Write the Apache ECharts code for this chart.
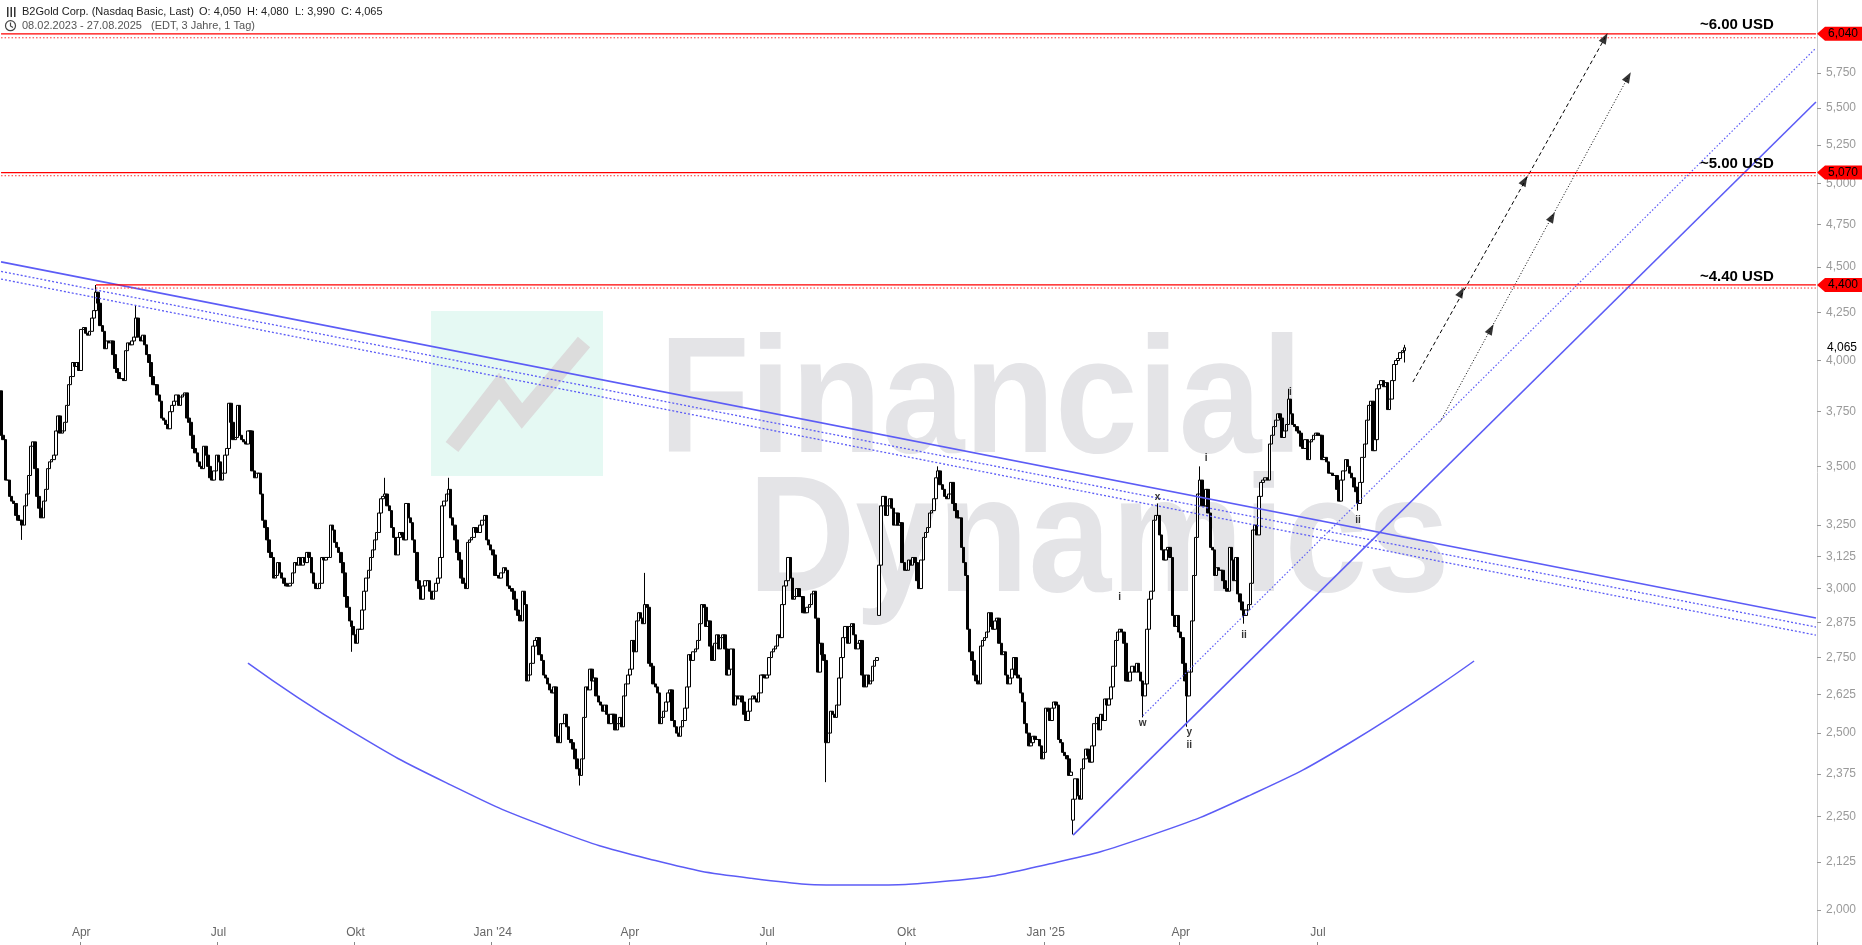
<!DOCTYPE html>
<html><head><meta charset="utf-8">
<script src="https://cdn.jsdelivr.net/npm/echarts@6/dist/echarts.min.js"></script>
<style>html,body{margin:0;padding:0;background:#fff}#c{width:1862px;height:945px}</style>
</head><body><div id="c"></div>
<script>
// ---------- DATA ----------
const startDate = '2023-02-08';   // first trading day shown
const slotCount = 861;            // weekday slots incl. projection area
const lastDataIndex = 665;        // 27.08.2025
const firstOpen = 3.85;
const closes = [
// 0
3.64,3.62,3.44,3.44,3.37,3.35,3.34,3.29,3.27,3.27,
3.25,3.33,3.38,3.46,3.59,3.61,3.49,3.37,3.32,3.28,
3.35,3.40,3.49,3.52,3.53,3.55,3.66,3.73,3.65,3.66,
3.70,3.78,3.88,3.92,3.99,3.97,3.99,3.95,4.16,4.17,
4.14,4.13,4.15,4.22,4.26,4.36,4.30,4.18,4.15,4.06,
4.10,4.09,4.10,4.03,3.96,3.94,3.91,3.91,3.90,4.05,
4.09,4.08,4.10,4.12,4.22,4.12,4.10,4.13,4.08,4.03,
3.99,3.92,3.88,3.88,3.83,3.80,3.72,3.71,3.69,3.67,
3.75,3.78,3.80,3.83,3.78,3.82,3.83,3.84,3.72,3.70,
3.64,3.58,3.56,3.52,3.50,3.49,3.59,3.55,3.50,3.45,
3.44,3.48,3.55,3.52,3.44,3.47,3.55,3.58,3.79,3.70,
3.62,3.63,
// 112
3.78,3.64,3.62,3.61,3.60,3.66,3.66,3.48,
3.45,3.47,3.47,3.38,3.27,3.24,3.19,3.14,3.12,3.04,
3.05,3.10,3.06,3.04,3.02,3.01,3.01,3.02,3.06,3.10,
3.09,3.12,3.09,3.12,3.10,3.14,3.12,3.06,3.02,3.00,
3.00,3.02,3.12,3.11,3.12,3.12,3.25,3.23,3.18,3.16,
3.14,3.10,3.06,2.97,2.93,2.88,2.86,2.83,2.80,2.85,
2.85,2.92,2.99,3.04,3.07,3.12,3.15,3.19,3.22,3.30,
3.36,3.37,3.38,3.33,3.31,3.24,3.20,3.13,3.20,3.22,
3.21,3.19,3.34,3.28,3.26,3.19,3.14,3.03,3.00,2.96,
3.01,3.03,3.03,2.99,2.96,2.99,3.02,3.04,3.12,3.33,
3.35,3.38,3.40,3.28,3.25,3.19,3.14,3.11,3.04,3.02,
3.00,3.18,3.19,3.20,3.24,
// 225
3.22,3.22,3.25,3.27,3.29,3.19,3.17,3.15,3.13,3.05,
3.05,3.04,3.06,3.08,3.07,3.01,3.00,2.99,2.96,2.92,
2.90,2.88,2.99,2.94,2.67,2.69,2.73,2.79,2.81,2.82,
2.76,2.74,2.69,2.68,2.66,2.64,2.63,2.65,2.49,2.47,
2.53,2.53,2.56,2.52,2.48,2.47,2.45,2.42,2.39,2.37,
2.42,2.55,2.65,2.64,2.71,2.67,2.68,2.62,2.60,2.59,
2.57,2.59,2.56,2.53,2.56,2.56,2.51,2.53,2.55,2.52,
2.62,2.66,2.69,2.71,2.81,2.77,2.88,2.91,2.89,2.87,
2.94,2.93,2.73,2.72,2.66,2.65,2.63,2.53,2.55,2.57,
2.60,2.63,2.64,2.54,2.52,2.50,2.49,2.52,2.54,2.58,
2.65,2.76,2.74,2.77,2.78,2.81,2.87,2.94,2.93,2.86,
// 335
2.88,2.79,2.74,2.80,2.83,2.78,2.82,2.83,2.78,2.69,
2.71,2.78,2.59,2.62,2.61,2.62,2.60,2.56,2.54,2.57,
2.61,2.62,2.61,2.60,2.63,2.69,2.69,2.68,2.69,2.75,
2.77,2.78,2.79,2.83,2.82,2.94,3.01,3.03,3.12,3.04,
2.96,2.97,3.00,2.97,2.97,2.91,2.91,2.93,2.94,2.98,
2.99,2.89,2.70,2.80,2.76,2.74,2.47,2.50,2.57,2.56,
2.55,2.59,2.68,2.75,2.82,2.86,2.80,2.86,2.87,2.83,
2.78,2.80,2.81,2.69,2.65,2.69,2.66,2.67,2.72,2.74,
2.75,3.09,3.33,3.37,3.29,3.33,3.36,3.32,3.25,3.30,
3.25,3.26,3.10,3.07,3.07,3.11,3.09,3.12,3.10,3.03,
3.00,3.11,3.20,3.22,3.24,3.30,3.31,3.36,3.45,3.48,
3.42,3.40,3.37,
// 448
3.36,3.38,
3.43,3.34,3.31,3.28,3.28,3.16,3.10,3.05,2.85,2.77,
2.74,2.69,2.67,2.66,2.79,2.81,2.82,2.84,2.91,2.86,
2.85,2.88,2.89,2.80,2.76,2.77,2.69,2.66,2.68,2.71,
2.75,2.69,2.68,2.63,2.60,2.53,2.50,2.46,2.47,2.49,
2.48,2.48,2.46,2.42,2.44,2.58,2.57,2.54,2.58,2.60,
2.59,2.48,2.47,2.44,2.43,2.42,2.37,2.38,2.30,2.36,
2.31,2.30,2.39,2.42,2.45,2.43,2.41,2.46,2.53,2.55,
2.51,2.56,2.54,2.61,2.59,2.61,2.65,2.72,2.81,2.84,
2.85,2.84,2.80,2.67,2.67,2.70,2.72,2.70,2.73,2.70,
2.67,2.62,2.66,2.85,2.96,2.99,3.27,3.29,3.29,3.21,
3.15,3.11,3.15,3.16,3.12,2.90,
// 556
2.86,2.90,2.84,2.82,
2.73,2.67,2.62,2.70,2.88,3.05,3.20,3.38,3.44,3.33,
3.33,3.40,3.30,3.16,3.15,3.05,3.08,3.07,3.07,3.03,
3.00,2.99,3.16,3.11,3.03,3.12,2.98,2.95,2.92,2.90,
2.92,2.94,3.02,3.23,3.25,3.21,3.37,3.43,3.44,3.45,
3.44,3.60,3.64,3.68,3.71,3.74,3.72,3.63,3.66,3.69,
3.81,3.74,3.69,3.68,3.66,3.65,3.59,3.58,3.62,3.53,
3.61,3.62,3.64,3.65,3.64,3.64,3.53,3.54,3.52,3.47,
3.47,3.46,3.46,3.40,3.35,3.44,3.48,3.53,3.50,3.47,
3.45,3.41,3.39,3.34,3.43,3.54,3.60,3.71,3.78,3.80,
3.57,3.62,3.86,3.88,3.90,3.87,3.89,3.76,3.81,3.90,
3.98,4.00,4.01,4.04,4.05,4.065
];
const openOverrides = [[416, 2.90], [508, 2.24], [665, 4.05]];
const highOverrides = [[45, 4.40], [64, 4.29], [182, 3.45], [212, 3.45], [305, 3.06], [444, 3.50], [548, 3.34], [568, 3.50], [610, 3.86], [665, 4.08]];
const lowOverrides = [[10, 3.19], [166, 2.77], [274, 2.34], [391, 2.35], [508, 2.20], [541, 2.55], [562, 2.52], [589, 2.87], [643, 3.31], [665, 3.99]];

const yTicks = [2.000,2.125,2.250,2.375,2.500,2.625,2.750,2.875,3.000,3.125,3.250,3.500,3.750,4.000,4.250,4.500,4.750,5.000,5.250,5.500,5.750];
const yMin = 1.9136, yMax = 6.3034;

// horizontal target levels
const levelValues = [6.040, 5.070, 4.400];
const levelStarts = [0, 0, 45];
const levelTags = ['6,040', '5,070', '4,400'];
const levelNotes = ['~6.00 USD', '~5.00 USD', '~4.40 USD'];
const levelLowerValues = [6.010, 5.050, 4.383];
const lastPrice = 4.065;

// trend lines: [[idx, price], [idx, price]]
const downTrendSolid = [[0, 4.530], [860, 2.891]];
const downTrendDot1 = [[0, 4.476], [860, 2.858]];
const downTrendDot2 = [[0, 4.433], [860, 2.829]];
const upTrendSolid = [[508, 2.198], [860, 5.542]];
const upTrendDot = [[541, 2.555], [860, 5.933]];
// rounding bottom arc
const arcPoints = [[117,2.731],[165,2.510],[213,2.342],[260,2.218],[307,2.133],[355,2.082],[407,2.064],[450,2.075],[497,2.120],[544,2.196],[592,2.312],[639,2.469],[698,2.738]];
// projection arrows
const arrowDashed = [[669,3.893],[760,6.009]];
const arrowDashedHeads = [[692,4.361],[722,5.020],[760,6.009]];
const arrowDotted = [[682,3.704],[771,5.720]];
const arrowDottedHeads = [[706,4.162],[735,4.794],[771,5.720]];
// Elliott wave labels
const waveLabels = [[530,2.968,'i'],[541,2.532,'w'],[548,3.367,'x'],[563,2.504,'y'],[563,2.463,'ii'],[571,3.537,'i'],[589,2.829,'ii'],[611,3.844,'i'],[643,3.271,'ii']];

// ---------- BUILD ----------
const ln = Math.log;
function weekdays(start, n) {
  const out = []; const d = new Date(start + 'T00:00:00Z');
  while (out.length < n) { const wd = d.getUTCDay(); if (wd !== 0 && wd !== 6) out.push(d.toISOString().slice(0, 10)); d.setUTCDate(d.getUTCDate() + 1); }
  return out;
}
const cats = weekdays(startDate, slotCount);
const monthNames = {1: 'Jan', 4: 'Apr', 7: 'Jul', 10: 'Okt'};
function isQuarterStart(i) {
  if (i <= 0 || i > lastDataIndex) return false;
  const m = +cats[i].slice(5, 7), pm = +cats[i - 1].slice(5, 7);
  return m !== pm && (m === 1 || m === 4 || m === 7 || m === 10);
}
function fmtLabel(v) {
  const m = +v.slice(5, 7);
  return m === 1 ? "Jan '" + v.slice(2, 4) : monthNames[m];
}

const opens = closes.map((c, i) => i === 0 ? firstOpen : closes[i - 1]);
openOverrides.forEach(([i, v]) => opens[i] = v);
const highs = closes.map((c, i) => Math.max(c, opens[i]));
const lows = closes.map((c, i) => Math.min(c, opens[i]));
highOverrides.forEach(([i, v]) => highs[i] = Math.max(highs[i], v));
lowOverrides.forEach(([i, v]) => lows[i] = Math.min(lows[i], v));
const candleData = closes.map((c, i) => [ln(opens[i]), ln(c), ln(lows[i]), ln(highs[i])]);

const toLn = arr => arr.map(p => [p[0], ln(p[1])]);
const FONT = '"Liberation Sans", Arial, sans-serif';
const BLUE = '#5c5cf6';

function lineSeries(pts, style, extra) {
  return Object.assign({ type: 'line', data: toLn(pts), symbol: 'none', silent: true, animation: false, z: 4, lineStyle: style }, extra || {});
}

const series = [
  {
    type: 'candlestick', data: candleData, z: 3, barWidth: 3, silent: true, large: false, progressive: 0,
    itemStyle: { color: '#ffffff', color0: '#000000', borderColor: '#000000', borderColor0: '#000000', borderWidth: 1 }
  },
  lineSeries(downTrendSolid, { color: BLUE, width: 1.6 }),
  lineSeries(downTrendDot1, { color: BLUE, width: 1.3, type: [2, 2] }),
  lineSeries(downTrendDot2, { color: BLUE, width: 1.3, type: [2, 2] }),
  lineSeries(upTrendSolid, { color: BLUE, width: 1.6 }),
  lineSeries(upTrendDot, { color: BLUE, width: 1.2, type: [1.5, 2] }),
  lineSeries(arcPoints, { color: BLUE, width: 1.5 }, { smooth: 0.5 }),
  lineSeries(arrowDashed, { color: '#000', width: 1, type: [4, 3] }),
  lineSeries(arrowDotted, { color: '#000', width: 1, type: [1, 2] }),
  {
    type: 'scatter', data: toLn(arrowDashedHeads), symbol: 'triangle', symbolSize: [8, 11], symbolRotate: -29,
    itemStyle: { color: '#000' }, silent: true, z: 6
  },
  {
    type: 'scatter', data: toLn(arrowDottedHeads), symbol: 'triangle', symbolSize: [8, 11], symbolRotate: -29,
    itemStyle: { color: '#000' }, silent: true, z: 6
  }
];
levelValues.forEach((v, k) => {
  series.push(lineSeries([[levelStarts[k], v], [slotCount - 1, v]], { color: '#ff0000', width: 1.2 }, { z: 5 }));
  series.push(lineSeries([[levelStarts[k], levelLowerValues[k]], [slotCount - 1, levelLowerValues[k]]], { color: '#ff3030', width: 1, type: [1.5, 2] }, { z: 5 }));
});
series.push({
  type: 'custom', coordinateSystem: 'cartesian2d', clip: false, silent: true, z: 8,
  data: levelValues.map(v => [840, ln(v)]), encode: { x: 0, y: 1 },
  renderItem: (params, api) => {
    const p = api.coord([api.value(0), api.value(1)]);
    return { type: 'text', x: p[0], y: p[1] - 1, style: { text: levelNotes[params.dataIndex], font: 'bold 15px ' + FONT, fill: '#000', align: 'right', verticalAlign: 'bottom' } };
  }
});
series.push({
  type: 'custom', coordinateSystem: 'cartesian2d', clip: false, silent: true, z: 20,
  data: levelValues.map(v => [slotCount - 1, ln(v)]), encode: { x: 0, y: 1 },
  renderItem: (params, api) => {
    const p = api.coord([api.value(0), api.value(1)]);
    const x0 = Math.round(p[0] + 1), y = p[1];
    return {
      type: 'group', children: [
        { type: 'polygon', shape: { points: [[x0, y], [x0 + 8, y - 7], [1862, y - 7], [1862, y + 7], [x0 + 8, y + 7]] }, style: { fill: '#ff0000' } },
        { type: 'text', x: x0 + 11, y: y, style: { text: levelTags[params.dataIndex], font: '12px ' + FONT, fill: '#000', align: 'left', verticalAlign: 'middle' } }
      ]
    };
  }
});
series.push({
  type: 'custom', coordinateSystem: 'cartesian2d', clip: false, silent: true, z: 20,
  data: [[slotCount - 1, ln(lastPrice)]], encode: { x: 0, y: 1 },
  renderItem: (params, api) => {
    const p = api.coord([api.value(0), api.value(1)]);
    return { type: 'text', x: Math.round(p[0] + 9), y: p[1], style: { text: lastPrice.toFixed(3).replace('.', ','), font: '12px ' + FONT, fill: '#000', align: 'left', verticalAlign: 'middle', backgroundColor: '#fff', padding: [1, 2, 0, 2] } };
  }
});
series.push({
  type: 'custom', coordinateSystem: 'cartesian2d', clip: false, silent: true, z: 8,
  data: waveLabels.map(w => [w[0], ln(w[1])]), encode: { x: 0, y: 1 },
  renderItem: (params, api) => {
    const p = api.coord([api.value(0), api.value(1)]);
    return { type: 'text', x: p[0], y: p[1], style: { text: waveLabels[params.dataIndex][2], font: 'bold 10px ' + FONT, fill: '#333', align: 'center', verticalAlign: 'middle' } };
  }
});

const chart = echarts.init(document.getElementById('c'), null, { renderer: 'canvas' });
chart.setOption({
  animation: false,
  backgroundColor: '#ffffff',
  grid: { left: 0, right: 45, top: 0, bottom: 0, containLabel: false },
  xAxis: {
    type: 'category', data: cats, boundaryGap: true,
    axisLine: { show: false },
    axisTick: { show: true, inside: true, length: 3, interval: (i) => isQuarterStart(i), lineStyle: { color: '#888' } },
    axisLabel: { inside: true, interval: (i) => isQuarterStart(i), formatter: fmtLabel, color: '#666', fontSize: 12, margin: 6, fontFamily: '"Liberation Sans Narrow", "Liberation Sans", Arial' },
    splitLine: { show: false }
  },
  yAxis: {
    type: 'value', position: 'right', min: ln(yMin), max: ln(yMax),
    splitLine: { show: false },
    axisLine: { show: true, lineStyle: { color: '#cccccc' } },
    axisTick: { show: true, length: 4, customValues: yTicks.map(ln), lineStyle: { color: '#999' } },
    axisLabel: { customValues: yTicks.map(ln), formatter: v => Math.exp(v).toFixed(3).replace('.', ','), color: '#9a9a9a', fontSize: 12, margin: 9, fontFamily: FONT }
  },
  graphic: [
    { type: 'rect', z: -10, shape: { x: 431, y: 311, width: 172, height: 165 }, style: { fill: '#e5f9f3' } },
    { type: 'polyline', z: -9, shape: { points: [[452, 447], [499, 386], [522, 416], [584, 342]] }, style: { stroke: '#dcdcdc', lineWidth: 16, fill: null } },
    { type: 'text', z: -8, x: 659, y: 406, scaleX: 0.9, style: { text: 'Financial', font: 'bold 165px ' + FONT, fill: '#e4e4e7', verticalAlign: 'middle' } },
    { type: 'text', z: -8, x: 748, y: 545, scaleX: 0.9, style: { text: 'Dynamics', font: 'bold 165px ' + FONT, fill: '#e4e4e7', verticalAlign: 'middle' } },
    // header
    { type: 'rect', z: 30, shape: { x: 7, y: 7, width: 1.5, height: 10 }, style: { fill: '#333' } },
    { type: 'rect', z: 30, shape: { x: 10.5, y: 7, width: 1.5, height: 10 }, style: { fill: '#333' } },
    { type: 'rect', z: 30, shape: { x: 14, y: 7, width: 1.5, height: 10 }, style: { fill: '#333' } },
    { type: 'circle', z: 30, shape: { cx: 10.5, cy: 25.7, r: 5 }, style: { stroke: '#444', fill: null, lineWidth: 1.2 } },
    { type: 'polyline', z: 30, shape: { points: [[10.5, 22.5], [10.5, 26], [13, 27.5]] }, style: { stroke: '#444', fill: null, lineWidth: 1.2 } },
    { type: 'text', z: 30, x: 22, y: 12, style: { text: 'B2Gold Corp. (Nasdaq Basic, Last)', font: '11px ' + FONT, fill: '#222', verticalAlign: 'middle' } },
    { type: 'text', z: 30, x: 199, y: 12, style: { text: 'O: 4,050', font: '11px ' + FONT, fill: '#222', verticalAlign: 'middle' } },
    { type: 'text', z: 30, x: 247, y: 12, style: { text: 'H: 4,080', font: '11px ' + FONT, fill: '#222', verticalAlign: 'middle' } },
    { type: 'text', z: 30, x: 295, y: 12, style: { text: 'L: 3,990', font: '11px ' + FONT, fill: '#222', verticalAlign: 'middle' } },
    { type: 'text', z: 30, x: 341, y: 12, style: { text: 'C: 4,065', font: '11px ' + FONT, fill: '#222', verticalAlign: 'middle' } },
    { type: 'text', z: 30, x: 22, y: 26, style: { text: '08.02.2023 - 27.08.2025', font: '11px ' + FONT, fill: '#555', verticalAlign: 'middle' } },
    { type: 'text', z: 30, x: 151, y: 26, style: { text: '(EDT, 3 Jahre, 1 Tag)', font: '11px ' + FONT, fill: '#555', verticalAlign: 'middle' } }
  ],
  series: series
});
</script>
</body></html>
